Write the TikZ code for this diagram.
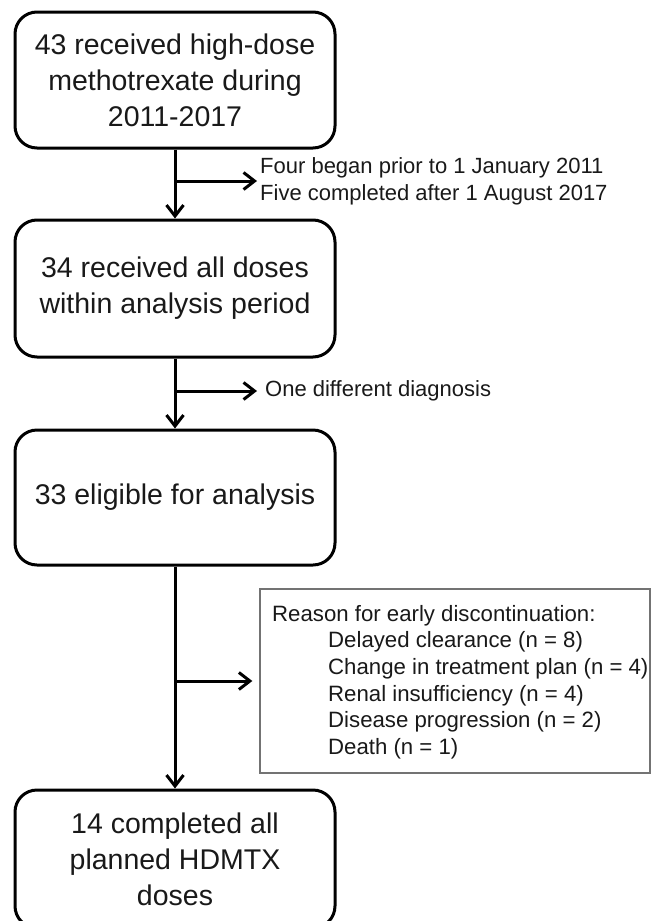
\documentclass[tikz,border=0pt]{standalone}
\usepackage{fontspec}
\setmainfont{Liberation Sans}
\usetikzlibrary{arrows.meta}
\begin{document}
\begin{tikzpicture}[x=1pt,y=-1pt,
  flowbox/.style={draw, line width=3pt, rounded corners=22pt, minimum width=320pt,
    align=center, inner sep=0pt, font=\fontsize{28.5}{36}\selectfont, text=black!90},
  sidetext/.style={align=left, inner sep=0pt, font=\fontsize{22}{27}\selectfont, text=black!90, anchor=west},
  conn/.style={line width=3pt, -{Straight Barb[length=11pt,width=17pt]}}
]
\useasboundingbox (0,0) rectangle (658,921);
\clip (0,0) rectangle (658,921);

\node[flowbox, minimum height=136pt] (b1) at (175,80) {43 received high-dose\\methotrexate during\\2011-2017};
\node[flowbox, minimum height=137pt] (b2) at (175,288.5) {34 received all doses\\within analysis period};
\node[flowbox, minimum height=135pt] (b3) at (175,497.5) {33 eligible for analysis};
\node[flowbox, minimum height=138pt] (b5) at (175,859) {14 completed all\\planned HDMTX\\doses};

\node[sidetext] (s1) at (260,181) {Four began prior to 1 January 2011\\Five completed after 1 August 2017};
\node[sidetext] (s2) at (265,391) {One different diagnosis};

\node[draw=black!55, line width=1.3pt, minimum width=390pt, minimum height=184pt, inner sep=0pt] (r) at (455,681) {};
\node[sidetext, font=\fontsize{22.2}{26.6}\selectfont] (rt) at (272,682)
  {Reason for early discontinuation:\\
   \hspace*{56pt}Delayed clearance (n = 8)\\
   \hspace*{56pt}Change in treatment plan (n = 4)\\
   \hspace*{56pt}Renal insufficiency (n = 4)\\
   \hspace*{56pt}Disease progression (n = 2)\\
   \hspace*{56pt}Death (n = 1)};

\draw[conn] (b1.south) -- (b2.north);
\draw[conn, shorten >=3pt] (b1.south |- s1.west) -- (s1.west);
\draw[conn] (b2.south) -- (b3.north);
\draw[conn, shorten >=8pt] (b2.south |- s2.west) -- (s2.west);
\draw[conn] (b3.south) -- (b5.north);
\draw[conn, shorten >=7pt] (b3.south |- r.west) -- (r.west);
\end{tikzpicture}
\end{document}
